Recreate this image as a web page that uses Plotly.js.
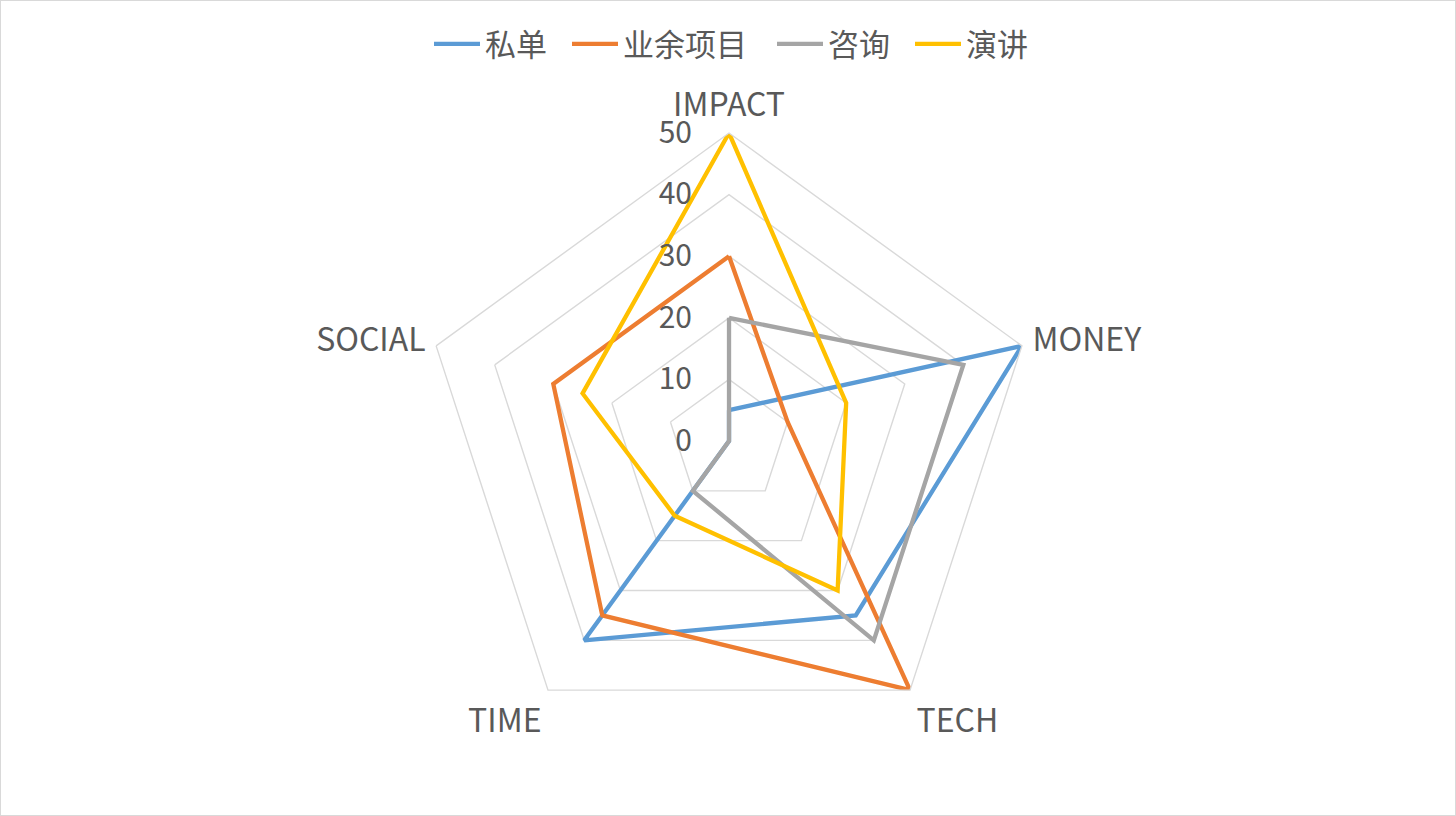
<!DOCTYPE html>
<html>
<head>
<meta charset="utf-8">
<script src="https://cdn.plot.ly/plotly-3.0.1.min.js"></script>
<style>
  html, body { margin: 0; padding: 0; background: #fff; }
  #chart { width: 1454px; height: 814px; border: 1px solid #d9d9d9; }
</style>
</head>
<body>
<div id="chart"></div>
<script>
// axes of the radar, clockwise from the top
var categories = ["IMPACT", "MONEY", "TECH", "TIME", "SOCIAL"];

var siDan = [5, 50, 35, 40, 0];          // 私单
var yeYu = [30, 10, 50, 35, 30];         // 业余项目
var zixun = [20, 40, 40, 10, 0];         // 咨询
var yanjiang = [50, 20, 30, 15, 25];     // 演讲

var seriesNames = ["私单", "业余项目", "咨询", "演讲"];
var seriesValues = [siDan, yeYu, zixun, yanjiang];
var colors = ["#5B9BD5", "#ED7D31", "#A5A5A5", "#FFC000"];

var radialTicks = [0, 10, 20, 30, 40, 50];

var font = "'Noto Sans CJK SC', 'Noto Sans', sans-serif";

// one legend box per series so the gaps can match the original
var legendIds = ["legend", "legend2", "legend3", "legend4"];
var legendX = [428, 566, 771, 909];

// close every loop by repeating the first point
var traces = [];
for (var i = 0; i < seriesValues.length; i++) {
    var r = seriesValues[i].slice();
    r.push(r[0]);
    var th = categories.slice();
    th.push(categories[0]);
    traces.push({
        type: "scatterpolar",
        mode: "lines",
        name: seriesNames[i],
        legend: legendIds[i],
        r: r,
        theta: th,
        line: { color: colors[i], width: 4.3 },
        hoverinfo: "name+r+theta"
    });
}

var layout = {
    width: 1454,
    height: 814,
    margin: { l: 0, r: 0, t: 0, b: 0 },
    paper_bgcolor: "#fff",
    font: { family: font, color: "#595959", size: 24 },
    showlegend: true,
    polar: {
        domain: { x: [0.2889, 0.7125], y: [0.0811, 0.8378] },
        bgcolor: "#fff",
        gridshape: "linear",
        angularaxis: {
            rotation: 90,
            direction: "clockwise",
            showgrid: false,
            showline: true,
            linecolor: "#d9d9d9",
            linewidth: 1.4,
            ticks: "outside",
            ticklen: 4,
            tickcolor: "rgba(0,0,0,0)",
            tickfont: { size: 32, color: "#595959", family: font }
        },
        radialaxis: {
            range: [0, 50],
            tickvals: radialTicks,
            angle: 90,
            side: "counterclockwise",
            tickangle: 90,
            showline: false,
            ticks: "outside",
            ticklen: 26,
            tickcolor: "rgba(0,0,0,0)",
            gridcolor: "#d9d9d9",
            gridwidth: 1.4,
            tickfont: { size: 30, color: "#595959", family: font }
        }
    }
};

for (var k = 0; k < legendIds.length; k++) {
    layout[legendIds[k]] = {
        orientation: "h",
        x: legendX[k] / 1454, xanchor: "left",
        y: 0.98, yanchor: "top",
        font: { size: 31, color: "#595959", family: font },
        itemwidth: 46,
        bgcolor: "rgba(0,0,0,0)"
    };
}

Plotly.newPlot("chart", traces, layout, { displayModeBar: false, staticPlot: true });
</script>
</body>
</html>
